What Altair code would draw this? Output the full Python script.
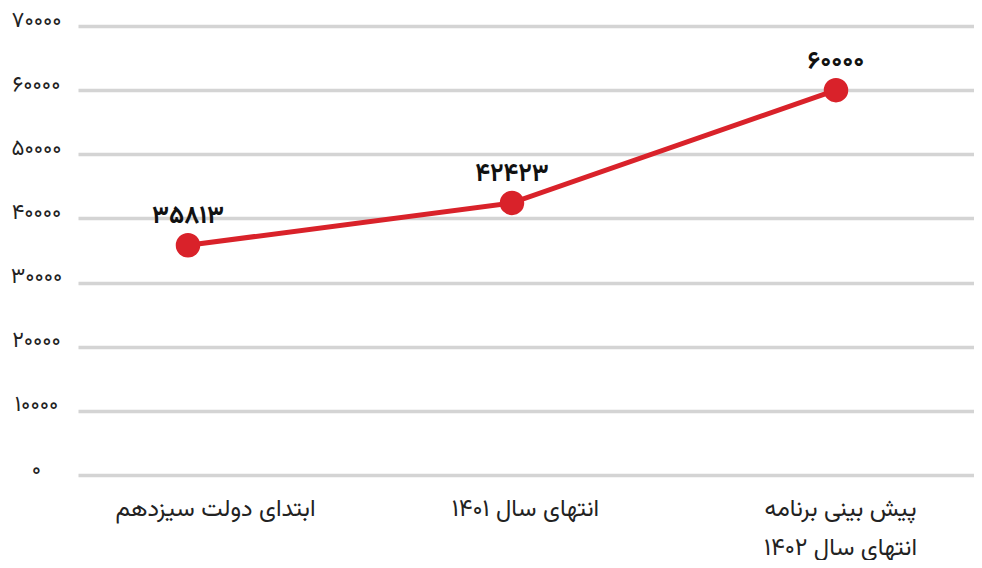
import altair as alt
import pandas as pd

categories = ["ابتدای دولت سیزدهم", "انتهای سال ۱۴۰۱", "پیش بینی برنامه|انتهای سال ۱۴۰۲"]
values = [35813, 42423, 60000]
value_labels = ["۳۵۸۱۳", "۴۲۴۲۳", "۶۰۰۰۰"]
y_ticks = [0, 10000, 20000, 30000, 40000, 50000, 60000, 70000]
y_tick_labels = ["۰", "۱۰۰۰۰", "۲۰۰۰۰", "۳۰۰۰۰", "۴۰۰۰۰", "۵۰۰۰۰", "۶۰۰۰۰", "۷۰۰۰۰"]

df = pd.DataFrame({"cat": categories, "value": values, "label": value_labels})

RED = "#d9222a"
FONT = "Vazirmatn, Vazir, 'Noto Sans Arabic', 'Noto Naskh Arabic', 'DejaVu Sans', sans-serif"

label_arr = "[" + ",".join("'" + s + "'" for s in y_tick_labels) + "]"

x_enc = alt.X(
    "cat:N",
    sort=categories,
    scale=alt.Scale(type="point", padding=0.3827, align=0.4435),
    axis=alt.Axis(
        title=None, domain=False, ticks=False, tickSize=0, grid=False,
        labelAngle=0, labelFontSize=24, labelColor="#222222", labelFont=FONT,
        labelPadding=21, labelBaseline="top", labelLineHeight=39,
        labelOffset={
            "condition": [
                {"test": "datum.value === '" + categories[0] + "'", "value": 27},
                {"test": "datum.value === '" + categories[1] + "'", "value": 13},
            ],
            "value": 4,
        },
        labelLimit=400,
        labelExpr="split(datum.label, '|')",
    ),
)
y_enc = alt.Y(
    "value:Q",
    scale=alt.Scale(domain=[0, 70000], nice=False, zero=True),
    axis=alt.Axis(
        title=None, domain=False, ticks=False, tickSize=0,
        values=y_ticks, grid=True, gridColor="#d4d4d4", gridWidth=3.5,
        labelAlign="center", labelPadding=42, labelBaseline="alphabetic",
        labelFontSize=22, labelColor="#222222", labelFont=FONT,
        labelExpr=label_arr + "[round(datum.value / 10000)]",
    ),
)

base = alt.Chart(df).encode(x=x_enc, y=y_enc)

line = base.mark_line(color=RED, strokeWidth=5)
pts = base.mark_point(filled=True, opacity=1, color=RED, size=600)
txt = base.mark_text(
    font=FONT, fontSize=25, fontWeight="bold", color="#111111",
    baseline="alphabetic", align="center", dy=-22,
).encode(text="label:N")

chart = (
    alt.layer(line, pts, txt)
    .properties(
        width=896, height=449,
        background="white",
        autosize=alt.AutoSizeParams(type="none"),
        padding={"left": 70, "top": 18, "right": 0, "bottom": 85},
    )
    .configure_view(strokeWidth=0, stroke="transparent")
)

chart.save("out.html", embed_options={"renderer": "svg", "actions": False})
